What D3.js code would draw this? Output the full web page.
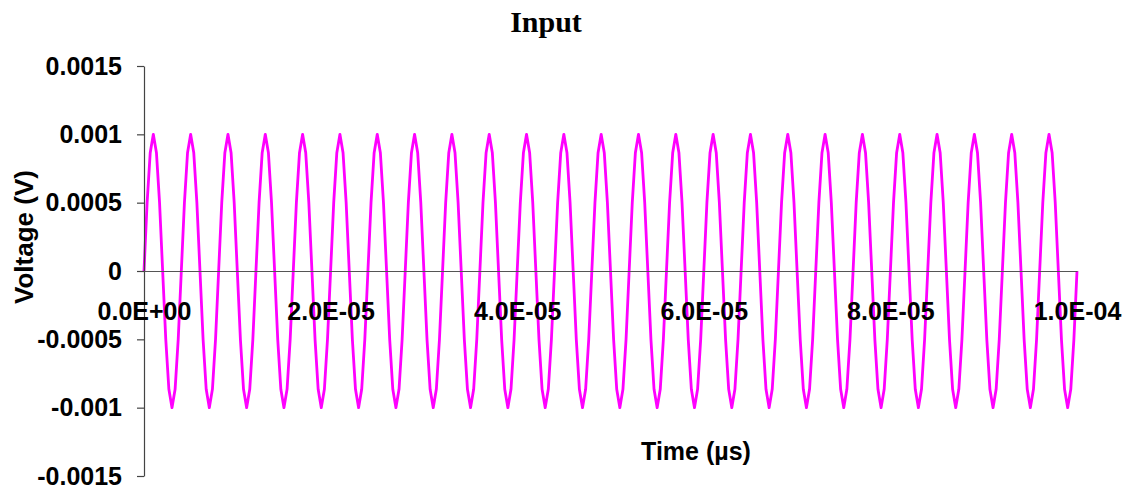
<!DOCTYPE html>
<html>
<head>
<meta charset="utf-8">
<script src="https://cdn.jsdelivr.net/npm/d3@7"></script>
<style>
  body { margin: 0; background: #fff; }
  svg { display: block; }
</style>
</head>
<body>
<svg id="input-chart"></svg>
<script>
// sampled input signal, 12 samples per cycle, 0 .. 1.0E-04 s
const sampleStep = 1e-4 / 300;
const voltage = [
  0, 0.0005, 0.000866, 0.001, 0.000866, 0.0005, 0, -0.0005, -0.000866, -0.001, -0.000866, -0.0005,
  0, 0.0005, 0.000866, 0.001, 0.000866, 0.0005, 0, -0.0005, -0.000866, -0.001, -0.000866, -0.0005,
  0, 0.0005, 0.000866, 0.001, 0.000866, 0.0005, 0, -0.0005, -0.000866, -0.001, -0.000866, -0.0005,
  0, 0.0005, 0.000866, 0.001, 0.000866, 0.0005, 0, -0.0005, -0.000866, -0.001, -0.000866, -0.0005,
  0, 0.0005, 0.000866, 0.001, 0.000866, 0.0005, 0, -0.0005, -0.000866, -0.001, -0.000866, -0.0005,
  0, 0.0005, 0.000866, 0.001, 0.000866, 0.0005, 0, -0.0005, -0.000866, -0.001, -0.000866, -0.0005,
  0, 0.0005, 0.000866, 0.001, 0.000866, 0.0005, 0, -0.0005, -0.000866, -0.001, -0.000866, -0.0005,
  0, 0.0005, 0.000866, 0.001, 0.000866, 0.0005, 0, -0.0005, -0.000866, -0.001, -0.000866, -0.0005,
  0, 0.0005, 0.000866, 0.001, 0.000866, 0.0005, 0, -0.0005, -0.000866, -0.001, -0.000866, -0.0005,
  0, 0.0005, 0.000866, 0.001, 0.000866, 0.0005, 0, -0.0005, -0.000866, -0.001, -0.000866, -0.0005,
  0, 0.0005, 0.000866, 0.001, 0.000866, 0.0005, 0, -0.0005, -0.000866, -0.001, -0.000866, -0.0005,
  0, 0.0005, 0.000866, 0.001, 0.000866, 0.0005, 0, -0.0005, -0.000866, -0.001, -0.000866, -0.0005,
  0, 0.0005, 0.000866, 0.001, 0.000866, 0.0005, 0, -0.0005, -0.000866, -0.001, -0.000866, -0.0005,
  0, 0.0005, 0.000866, 0.001, 0.000866, 0.0005, 0, -0.0005, -0.000866, -0.001, -0.000866, -0.0005,
  0, 0.0005, 0.000866, 0.001, 0.000866, 0.0005, 0, -0.0005, -0.000866, -0.001, -0.000866, -0.0005,
  0, 0.0005, 0.000866, 0.001, 0.000866, 0.0005, 0, -0.0005, -0.000866, -0.001, -0.000866, -0.0005,
  0, 0.0005, 0.000866, 0.001, 0.000866, 0.0005, 0, -0.0005, -0.000866, -0.001, -0.000866, -0.0005,
  0, 0.0005, 0.000866, 0.001, 0.000866, 0.0005, 0, -0.0005, -0.000866, -0.001, -0.000866, -0.0005,
  0, 0.0005, 0.000866, 0.001, 0.000866, 0.0005, 0, -0.0005, -0.000866, -0.001, -0.000866, -0.0005,
  0, 0.0005, 0.000866, 0.001, 0.000866, 0.0005, 0, -0.0005, -0.000866, -0.001, -0.000866, -0.0005,
  0, 0.0005, 0.000866, 0.001, 0.000866, 0.0005, 0, -0.0005, -0.000866, -0.001, -0.000866, -0.0005,
  0, 0.0005, 0.000866, 0.001, 0.000866, 0.0005, 0, -0.0005, -0.000866, -0.001, -0.000866, -0.0005,
  0, 0.0005, 0.000866, 0.001, 0.000866, 0.0005, 0, -0.0005, -0.000866, -0.001, -0.000866, -0.0005,
  0, 0.0005, 0.000866, 0.001, 0.000866, 0.0005, 0, -0.0005, -0.000866, -0.001, -0.000866, -0.0005,
  0, 0.0005, 0.000866, 0.001, 0.000866, 0.0005, 0, -0.0005, -0.000866, -0.001, -0.000866, -0.0005,
  0
];

const xTickValues = [0, 2e-5, 4e-5, 6e-5, 8e-5, 1e-4];
const xTickLabels = ["0.0E+00", "2.0E-05", "4.0E-05", "6.0E-05", "8.0E-05", "1.0E-04"];
const yTickValues = [0.0015, 0.001, 0.0005, 0, -0.0005, -0.001, -0.0015];
const yTickLabels = ["0.0015", "0.001", "0.0005", "0", "-0.0005", "-0.001", "-0.0015"];

const chartTitle = "Input";
const xTitle = "Time (\u00b5s)";
const yTitle = "Voltage (V)";

document.addEventListener("DOMContentLoaded", () => {
  drawChart("input-chart");
});

function drawChart(id) {
  const width = 1129,
    height = 491;
  const plot = { left: 144, right: 1077, top: 66, bottom: 476 };

  const svg = d3
    .select(`svg#${id}`)
    .attr("width", width)
    .attr("height", height);

  const x = d3.scaleLinear().domain([0, 1e-4]).range([plot.left, plot.right]);
  const y = d3
    .scaleLinear()
    .domain([-0.0015, 0.0015])
    .range([plot.bottom, plot.top]);

  const data = voltage.map((v, i) => ({ t: i * sampleStep, v: v }));

  // the series goes first so the axis labels stay readable on top of it
  const line = d3
    .line()
    .x((d) => x(d.t))
    .y((d) => y(d.v));

  svg
    .append("path")
    .datum(data)
    .attr("class", "series")
    .attr("d", line)
    .style("fill", "none")
    .style("stroke", "#FF00FF")
    .style("stroke-width", "2.8px")
    .style("stroke-linejoin", "round");

  // y axis
  const yAxis = svg
    .append("g")
    .attr("class", "y-axis")
    .attr("transform", `translate(${plot.left},0)`)
    .call(
      d3
        .axisLeft(y)
        .tickValues(yTickValues)
        .tickFormat((d, i) => yTickLabels[i])
        .tickSize(7)
        .tickSizeOuter(0)
        .tickPadding(15)
    );
  yAxis.select(".domain").attr("stroke", "#444").attr("stroke-width", 1.2);
  yAxis.selectAll(".tick line").attr("stroke", "#444").attr("stroke-width", 1.2);
  yAxis
    .selectAll(".tick text")
    .attr("fill", "#000")
    .style("font-family", "'Liberation Sans', Arial, sans-serif")
    .style("font-size", "25px")
    .style("font-weight", "bold");

  // x axis sits on the zero line, labels below it without tick marks
  const xAxis = svg
    .append("g")
    .attr("class", "x-axis")
    .attr("transform", `translate(0,${y(0)})`)
    .call(
      d3
        .axisBottom(x)
        .tickValues(xTickValues)
        .tickFormat((d, i) => xTickLabels[i])
        .tickSize(0)
        .tickSizeOuter(0)
        .tickPadding(31)
    );
  xAxis.select(".domain").attr("stroke", "#555").attr("stroke-width", 1.2);
  xAxis
    .selectAll(".tick text")
    .attr("fill", "#000")
    .style("font-family", "'Liberation Sans', Arial, sans-serif")
    .style("font-size", "25px")
    .style("font-weight", "bold");

  svg
    .append("text")
    .attr("class", "title")
    .attr("x", 546)
    .attr("y", 32)
    .attr("text-anchor", "middle")
    .style("font-family", "'Liberation Serif', 'Times New Roman', serif")
    .style("font-size", "30px")
    .style("font-weight", "bold")
    .text(chartTitle);

  svg
    .append("text")
    .attr("class", "x-title")
    .attr("x", 696)
    .attr("y", 460)
    .attr("text-anchor", "middle")
    .style("font-family", "'Liberation Sans', Arial, sans-serif")
    .style("font-size", "25px")
    .style("font-weight", "bold")
    .text(xTitle);

  svg
    .append("text")
    .attr("class", "y-title")
    .attr("transform", "translate(33,237) rotate(-90)")
    .attr("text-anchor", "middle")
    .style("font-family", "'Liberation Sans', Arial, sans-serif")
    .style("font-size", "26px")
    .style("font-weight", "bold")
    .text(yTitle);
}
</script>
</body>
</html>
